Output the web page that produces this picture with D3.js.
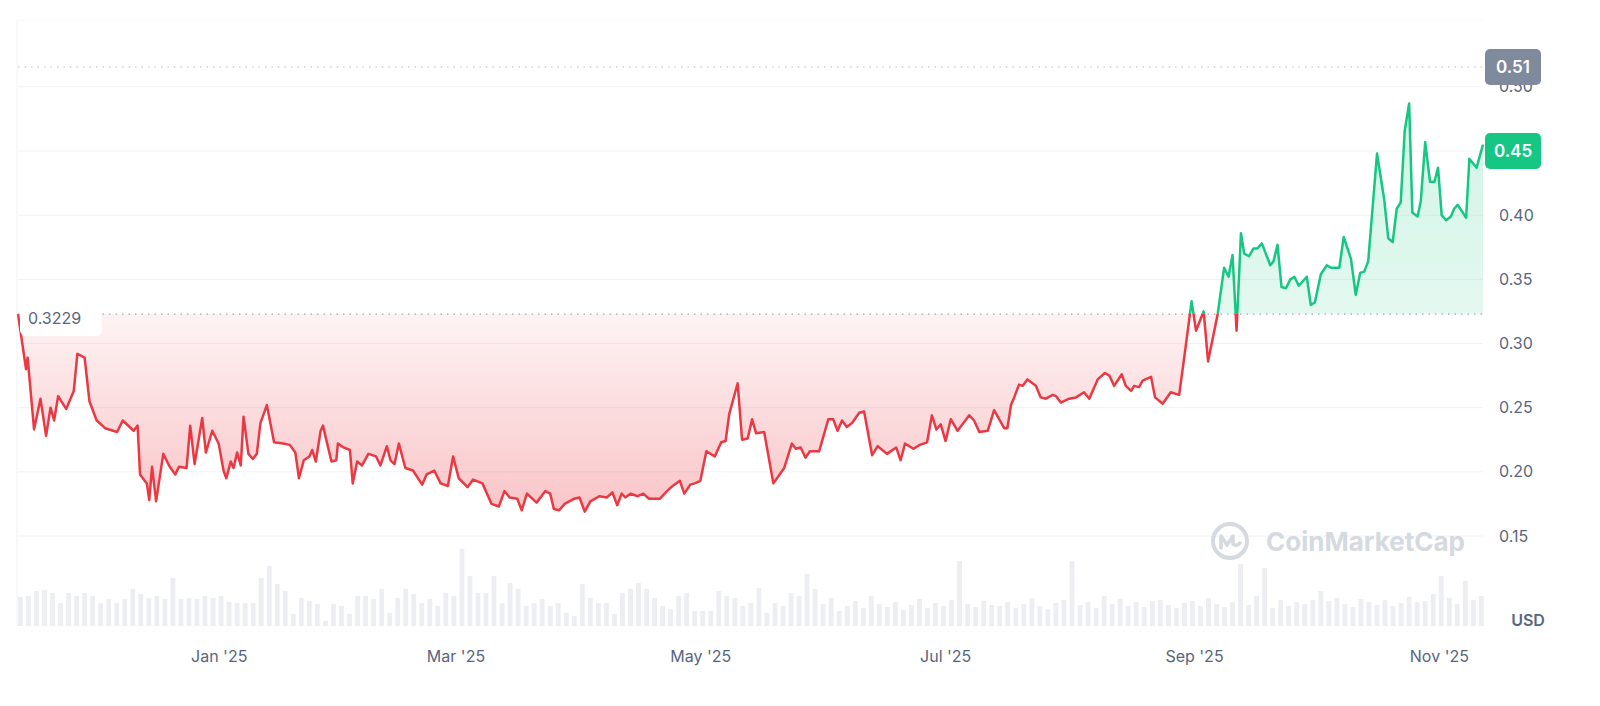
<!DOCTYPE html>
<html>
<head>
<meta charset="utf-8">
<script src="https://cdn.jsdelivr.net/npm/d3@7"></script>
<style>
  body { margin: 0; background: #fff; font-family: Inter, "Noto Sans", sans-serif; }
</style>
</head>
<body>
<div id="chart"></div>
<script>
// day offsets from the first date (2024-11-12) and closing prices in USD
const startDate = new Date(2024, 10, 12);
const dayOffsets = [0, 2, 2.4, 4, 5.6, 7, 8.1, 9, 10, 12, 13.9, 14.8, 16.6, 17.8, 19.6, 21.7, 24.7, 26.1, 28.8, 29.8,
  30.4, 32.1, 32.7, 33.4, 34.4, 36.2, 37.8, 39.2, 40.1, 42, 42.9, 44, 45.9, 46.8, 48.4, 50, 51.2, 51.9, 53, 53.7,
  54.6, 55.5, 56.2, 57.4, 58.5, 59.5, 60.4, 62, 63.8, 66.1, 67.7, 69.1, 70, 71.2, 72.6, 73.3, 74.2, 75.4, 76, 76.5,
  78.1, 79.3, 79.7, 81.1, 82.7, 83.4, 84.5, 85.7, 87.3, 89.2, 90.3, 91.9, 92.8, 93.8, 94.9, 96.5, 98.4, 100.7, 101.8, 103.7,
  105.3, 107.1, 108.4, 109.8, 112, 113.4, 115.7, 118, 119.8, 121.2, 122.5, 124.4, 125.5, 126.8, 129.2, 131.4, 132.6, 133.5, 134.8, 136.2,
  138.5, 139.9, 141.2, 142.6, 144.9, 146.7, 148.1, 149.3, 150.4, 151.3, 152.6, 154.4, 155.8, 157.2, 159.9, 161.7, 163.1, 164.9, 166, 167.5,
  168.6, 170, 171.5, 173.6, 175.2, 176.3, 177.2, 179.3, 180.4, 181.8, 182.9, 183.9, 185.9, 188.2, 190.9, 192.8, 193.8, 195, 196.2, 197.3,
  199.6, 201.9, 203.1, 204.2, 205.3, 206.5, 207.8, 209.6, 210.8, 212.8, 214.2, 216.5, 218.8, 219.9, 221, 223.1, 224.7, 226.5, 227.7, 228.8,
  229.9, 231.1, 232.4, 234.1, 237, 238.2, 239.5, 241.6, 243.2, 245.7, 246.5, 247.4, 248.2, 249.4, 250.3, 251.5, 253.6, 254.8, 256.1, 257.8,
  258.6, 259.8, 261.9, 263.6, 265.6, 266.9, 269, 270.8, 271.9, 273.1, 275, 276, 277.3, 278.1, 279.3, 280.2, 282.3, 283.3, 285.2, 287.2,
  289.3, 290.6, 292.4, 293.5, 295.4, 296.5, 298.9, 300.5, 301.6, 302.6, 303.6, 304.7, 305.5, 306.7, 307.8, 308.8, 309.9, 312, 312.8, 313.8,
  314.8, 315.9, 317, 318, 319.1, 321.1, 322.1, 323.1, 324.6, 326.1, 327.1, 329.2, 330.3, 332.1, 333.3, 334.4, 335.4, 336.4, 338.6, 340.4,
  341.4, 342.5, 343.5, 344.5, 345.5, 346.6, 347.4, 348.7, 349.5, 350.6, 351.8, 352.9, 353.8, 354.7, 355.8, 357, 357.8, 358.7, 360.8, 361.6,
  363.4, 365];
const prices = [0.3229, 0.280, 0.289, 0.233, 0.257, 0.228, 0.250, 0.240, 0.259, 0.249, 0.263, 0.292, 0.289, 0.255, 0.240, 0.234, 0.231, 0.240, 0.232, 0.236,
  0.198, 0.191, 0.178, 0.204, 0.177, 0.214, 0.204, 0.198, 0.204, 0.203, 0.236, 0.206, 0.242, 0.215, 0.232, 0.222, 0.201, 0.195, 0.208, 0.203,
  0.215, 0.205, 0.243, 0.214, 0.210, 0.214, 0.238, 0.252, 0.223, 0.222, 0.221, 0.215, 0.195, 0.209, 0.212, 0.217, 0.208, 0.232, 0.236, 0.229,
  0.208, 0.209, 0.222, 0.219, 0.217, 0.191, 0.208, 0.205, 0.214, 0.212, 0.205, 0.220, 0.209, 0.206, 0.222, 0.203, 0.201, 0.190, 0.198, 0.201,
  0.191, 0.189, 0.212, 0.195, 0.188, 0.194, 0.191, 0.175, 0.173, 0.185, 0.180, 0.179, 0.170, 0.183, 0.176, 0.185, 0.183, 0.171, 0.170, 0.175,
  0.179, 0.180, 0.169, 0.177, 0.181, 0.180, 0.184, 0.174, 0.183, 0.180, 0.183, 0.181, 0.183, 0.179, 0.179, 0.185, 0.189, 0.193, 0.183, 0.190,
  0.191, 0.193, 0.216, 0.212, 0.223, 0.224, 0.245, 0.269, 0.225, 0.226, 0.241, 0.230, 0.231, 0.191, 0.203, 0.222, 0.218, 0.219, 0.211, 0.216,
  0.216, 0.241, 0.241, 0.232, 0.240, 0.235, 0.238, 0.246, 0.247, 0.213, 0.220, 0.214, 0.219, 0.209, 0.222, 0.218, 0.221, 0.223, 0.244, 0.233,
  0.237, 0.224, 0.241, 0.232, 0.244, 0.240, 0.231, 0.232, 0.248, 0.234, 0.234, 0.252, 0.258, 0.268, 0.267, 0.272, 0.267, 0.258, 0.257, 0.260,
  0.259, 0.254, 0.257, 0.258, 0.262, 0.257, 0.272, 0.277, 0.275, 0.267, 0.276, 0.267, 0.263, 0.267, 0.266, 0.271, 0.274, 0.258, 0.253, 0.262,
  0.260, 0.290, 0.333, 0.310, 0.325, 0.286, 0.323, 0.359, 0.352, 0.369, 0.310, 0.386, 0.370, 0.368, 0.374, 0.374, 0.378, 0.361, 0.364, 0.377,
  0.344, 0.343, 0.350, 0.352, 0.345, 0.352, 0.330, 0.332, 0.354, 0.361, 0.359, 0.359, 0.383, 0.366, 0.338, 0.355, 0.356, 0.364, 0.448, 0.412,
  0.382, 0.379, 0.405, 0.410, 0.466, 0.487, 0.402, 0.399, 0.411, 0.457, 0.426, 0.426, 0.437, 0.400, 0.396, 0.399, 0.405, 0.408, 0.398, 0.444,
  0.437, 0.455];
// trading volume, one value per two days (relative units)
const volumes = [29, 30, 35, 36, 33, 23, 33, 30, 33, 30, 23, 27, 23, 27, 37, 32, 28, 30, 27, 48, 27, 28, 27, 30, 28, 30, 24, 23, 23, 23,
  48, 60, 42, 35, 12, 28, 25, 22, 5, 22, 20, 12, 30, 30, 27, 37, 13, 28, 37, 32, 23, 27, 20, 33, 30, 77, 50, 33, 33, 50,
  23, 43, 37, 20, 23, 27, 20, 23, 13, 10, 42, 28, 23, 23, 12, 33, 37, 43, 37, 28, 20, 17, 30, 33, 15, 15, 15, 35, 30, 28,
  20, 23, 38, 13, 23, 20, 33, 30, 52, 37,
  22, 28, 15, 20, 25, 18, 30, 22, 19, 24, 16, 21, 27, 18, 23, 20, 26, 65, 22, 19, 25, 21, 20, 24, 18, 22, 28, 20, 17, 23,
  26, 65, 21, 24, 18, 30, 22, 27, 20, 24, 19, 25, 26, 21, 18, 23, 25, 20, 28, 22, 19, 24, 62, 21, 30, 58, 18, 26, 20, 24,
  22, 26, 35, 25, 28, 22, 19, 27, 24, 21, 26, 20, 23, 29, 24, 25, 32, 50, 28, 22, 45, 26, 30];
const yTicks = [0.15, 0.20, 0.25, 0.30, 0.35, 0.40, 0.45, 0.50];
const xTickDates = ['2025-01-01', '2025-03-01', '2025-05-01', '2025-07-01', '2025-09-01', '2025-11-01'];
const openPrice = 0.3229;
const highPrice = 0.5155;
const lastPrice = 0.45;

const width = 1600, height = 706;
const left = 18, right = 1483;
const red = '#ea3943', green = '#16c784', textColor = '#58667e', gridColor = '#eff2f5';

const addDays = (d) => new Date(startDate.getTime() + d * 864e5);
const data = dayOffsets.map((d, i) => ({ date: addDays(d), close: prices[i] }));

const x = d3.scaleTime().domain([startDate, addDays(365)]).range([left, right]);
const y = d3.scaleLinear().domain([0.15, 0.45]).range([536, 151]);
const yVol = d3.scaleLinear().domain([0, 85]).range([626, 541]);

const svg = d3.select('#chart').append('svg').attr('width', width).attr('height', height)
  .style('font-family', 'Inter, "Noto Sans", sans-serif');

const defs = svg.append('defs');
const baseY = y(openPrice);
defs.append('clipPath').attr('id', 'above').append('rect')
  .attr('x', 0).attr('y', 0).attr('width', width).attr('height', baseY);
defs.append('clipPath').attr('id', 'below').append('rect')
  .attr('x', 0).attr('y', baseY).attr('width', width).attr('height', height - baseY);
const redGrad = defs.append('linearGradient').attr('id', 'redGrad')
  .attr('gradientUnits', 'userSpaceOnUse').attr('x1', 0).attr('x2', 0).attr('y1', baseY).attr('y2', y(0.165));
redGrad.append('stop').attr('offset', 0).attr('stop-color', red).attr('stop-opacity', 0.06);
redGrad.append('stop').attr('offset', 1).attr('stop-color', red).attr('stop-opacity', 0.3);
const greenGrad = defs.append('linearGradient').attr('id', 'greenGrad')
  .attr('gradientUnits', 'userSpaceOnUse').attr('x1', 0).attr('x2', 0).attr('y1', baseY).attr('y2', y(0.49));
greenGrad.append('stop').attr('offset', 0).attr('stop-color', green).attr('stop-opacity', 0.12);
greenGrad.append('stop').attr('offset', 1).attr('stop-color', green).attr('stop-opacity', 0.2);

// frame and grid
svg.append('line').attr('x1', left - 1).attr('x2', left - 1).attr('y1', 20).attr('y2', 626)
  .attr('stroke', gridColor);
svg.append('line').attr('x1', left).attr('x2', right).attr('y1', 20).attr('y2', 20).attr('stroke', '#f5f6f8');
svg.append('g').selectAll('line').data(yTicks).join('line')
  .attr('x1', left).attr('x2', right).attr('y1', d => y(d)).attr('y2', d => y(d))
  .attr('stroke', gridColor);

// volume bars
const volBand = (right - left) / volumes.length;
svg.append('g').selectAll('rect').data(volumes).join('rect')
  .attr('x', (d, i) => x(addDays(i * 2)))
  .attr('width', volBand * 0.6)
  .attr('y', d => yVol(d))
  .attr('height', d => yVol(0) - yVol(d))
  .attr('fill', '#eceef2');

// watermark
const wm = svg.append('g').attr('transform', 'translate(1230,541)').attr('fill', 'none');
wm.append('circle').attr('r', 17).attr('stroke', '#d5d9e0').attr('stroke-width', 4);
wm.append('path').attr('d', 'M-9,7 L-9,-5 L-3,4 L3,-5 L3,3 Q6,6 10,2')
  .attr('stroke', '#d5d9e0').attr('stroke-width', 3.5).attr('stroke-linecap', 'round').attr('stroke-linejoin', 'round');
svg.append('text').attr('x', 1266).attr('y', 551).text('CoinMarketCap')
  .attr('fill', '#d5d9e0').attr('font-size', 26).attr('font-weight', 700);

// areas and line split at the open price
const area = d3.area().x(d => x(d.date)).y0(baseY).y1(d => y(d.close));
const line = d3.line().x(d => x(d.date)).y(d => y(d.close));
svg.append('path').datum(data).attr('d', area).attr('fill', 'url(#redGrad)').attr('clip-path', 'url(#below)');
svg.append('path').datum(data).attr('d', area).attr('fill', 'url(#greenGrad)').attr('clip-path', 'url(#above)');

// dotted reference lines
svg.append('line').attr('x1', left).attr('x2', right).attr('y1', baseY).attr('y2', baseY)
  .attr('stroke', '#8a93a6').attr('stroke-dasharray', '1.5 5');
svg.append('line').attr('x1', left).attr('x2', right).attr('y1', y(highPrice)).attr('y2', y(highPrice))
  .attr('stroke', '#b8bfcc').attr('stroke-dasharray', '1.5 5');

svg.append('path').datum(data).attr('d', line).attr('fill', 'none').attr('stroke', red)
  .attr('stroke-width', 2.5).attr('stroke-linejoin', 'round').attr('clip-path', 'url(#below)');
svg.append('path').datum(data).attr('d', line).attr('fill', 'none').attr('stroke', green)
  .attr('stroke-width', 2.5).attr('stroke-linejoin', 'round').attr('clip-path', 'url(#above)');

// open price label
svg.append('rect').attr('x', 20).attr('y', baseY - 2).attr('width', 82).attr('height', 24).attr('rx', 6)
  .attr('fill', '#fff');
svg.append('text').attr('x', 28).attr('y', baseY + 10).text(openPrice.toFixed(4))
  .attr('fill', textColor).attr('font-size', 16);

// y axis (the last price tick is shown by its badge)
const yAxis = svg.append('g').attr('transform', `translate(${right + 10},0)`)
  .call(d3.axisRight(y).tickValues(yTicks.filter(d => d !== lastPrice))
    .tickFormat(d3.format('.2f')).tickSize(0));
yAxis.select('.domain').remove();
yAxis.selectAll('text').attr('fill', textColor).attr('font-size', 16).attr('dx', 3)
  .attr('font-family', 'Inter, "Noto Sans", sans-serif');

// price badges
const badge = (value, label, color) => {
  const g = svg.append('g').attr('transform', `translate(${right + 2},${y(value) - 18})`);
  g.append('rect').attr('width', 56).attr('height', 36).attr('rx', 5).attr('fill', color);
  g.append('text').attr('x', 28).attr('y', 24).attr('text-anchor', 'middle').text(label)
    .attr('fill', '#fff').attr('font-size', 17).attr('font-weight', 600);
};
badge(highPrice, '0.51', '#808a9d');
badge(lastPrice, '0.45', green);

// x axis
const xAxis = svg.append('g').attr('transform', 'translate(0,640)')
  .call(d3.axisBottom(x).tickValues(xTickDates.map(d => new Date(d + 'T00:00:00')))
    .tickFormat(d3.timeFormat("%b '%y")).tickSize(0));
xAxis.select('.domain').remove();
xAxis.selectAll('text').attr('fill', textColor).attr('font-size', 16).attr('dy', '1.2em')
  .attr('font-family', 'Inter, "Noto Sans", sans-serif');

svg.append('text').attr('x', 1528).attr('y', 626).attr('text-anchor', 'middle').text('USD')
  .attr('fill', textColor).attr('font-size', 16).attr('font-weight', 600);
</script>
</body>
</html>
